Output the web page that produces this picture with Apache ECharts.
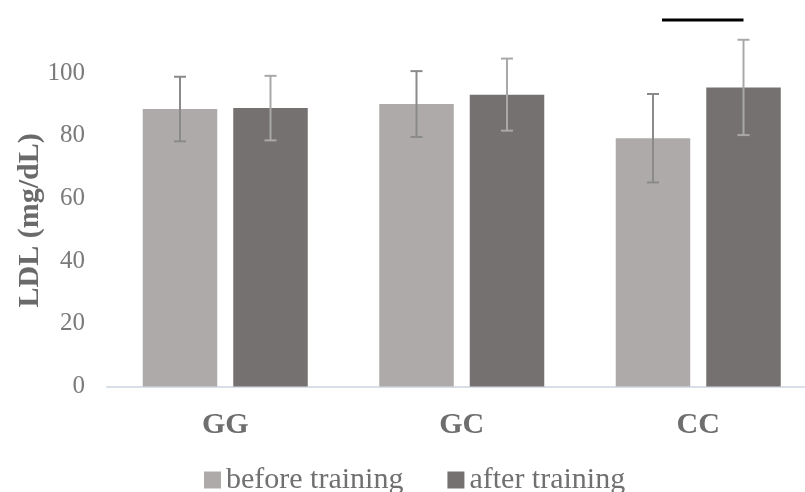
<!DOCTYPE html>
<html>
<head>
<meta charset="utf-8">
<script src="https://cdn.jsdelivr.net/npm/echarts@6/dist/echarts.min.js"></script>
<style>
  html, body { margin: 0; padding: 0; background: #fff; }
  #chart { width: 805px; height: 492px; }
</style>
</head>
<body>
<div id="chart"></div>
<script>
// LDL by genotype, before and after training (mean ± SD)
const categories = ['GG', 'GC', 'CC'];
const seriesNames = ['before training', 'after training'];
const beforeMean = [88.5, 90.1, 79.2];
const beforeSD = [10.3, 10.5, 14.1];
const afterMean = [88.8, 93.1, 95.4];
const afterSD = [10.3, 11.5, 15.2];
// significance bar over CC
const sigCategory = 2;
const sigLevel = 116.9;
const yTicks = [0, 20, 40, 60, 80, 100];

const FONT = '"Liberation Serif", "Times New Roman", serif';
const BAR_W = 74.5;
const GAP_PX = 16;
const OFFSET = (BAR_W + GAP_PX) / 2;

function errorBarSeries(means, sds, sign, color) {
  return {
    type: 'custom',
    z: 5,
    silent: true,
    clip: false,
    data: means.map((m, i) => [i, m, sds[i]]),
    encode: { x: 0, y: 1 },
    renderItem: function (params, api) {
      const idx = api.value(0);
      const m = api.value(1);
      const sd = api.value(2);
      const top = api.coord([idx, m + sd]);
      const bot = api.coord([idx, m - sd]);
      const x = top[0] + sign * OFFSET;
      const cap = 6;
      const style = { stroke: color, lineWidth: 2 };
      return {
        type: 'group',
        children: [
          { type: 'line', shape: { x1: x, y1: top[1], x2: x, y2: bot[1] }, style: style },
          { type: 'line', shape: { x1: x - cap, y1: top[1], x2: x + cap, y2: top[1] }, style: style },
          { type: 'line', shape: { x1: x - cap, y1: bot[1], x2: x + cap, y2: bot[1] }, style: style }
        ]
      };
    }
  };
}

const chart = echarts.init(document.getElementById('chart'), null, { renderer: 'canvas' });
chart.setOption({
  animation: false,
  backgroundColor: '#ffffff',
  textStyle: { fontFamily: FONT },
  grid: {
    left: 107, width: 709.5, top: 10.3, bottom: 105.5,
    containLabel: false, outerBoundsMode: 'none'
  },
  legend: {
    data: seriesNames,
    left: 199,
    top: 460,
    itemWidth: 17,
    itemHeight: 17,
    itemGap: 44,
    icon: 'rect',
    textStyle: { fontFamily: FONT, fontSize: 30, color: '#707070' }
  },
  xAxis: {
    type: 'category',
    data: categories,
    axisLine: { show: true, lineStyle: { color: '#d8dfe6', width: 2 } },
    axisTick: { show: false },
    axisLabel: { margin: 24, fontFamily: FONT, fontSize: 30, fontWeight: 'bold', color: '#6e6e6e' },
    splitLine: { show: false }
  },
  yAxis: {
    type: 'value',
    min: 0,
    max: 120,
    interval: 20,
    name: 'LDL (mg/dL)',
    nameLocation: 'middle',
    nameGap: 62,
    nameMoveOverlap: false,
    nameTextStyle: { fontFamily: FONT, fontSize: 30, fontWeight: 'bold', color: '#6a6a6a', padding: [0, 44, 0, 0] },
    axisLine: { show: false },
    axisTick: { show: false },
    splitLine: { show: false },
    axisLabel: {
      margin: 22,
      fontFamily: FONT,
      fontSize: 25,
      color: '#7a7a7a',
      formatter: function (v) { return yTicks.indexOf(v) >= 0 ? String(v) : ''; }
    }
  },
  series: [
    {
      name: seriesNames[0],
      type: 'bar',
      data: beforeMean,
      barWidth: BAR_W,
      barGap: (GAP_PX / BAR_W * 100).toFixed(2) + '%',
      itemStyle: { color: '#aeaaaa' }
    },
    {
      name: seriesNames[1],
      type: 'bar',
      data: afterMean,
      barWidth: BAR_W,
      itemStyle: { color: '#767171' }
    },
    errorBarSeries(beforeMean, beforeSD, -1, '#8a8a8a'),
    errorBarSeries(afterMean, afterSD, 1, '#a8a8a8'),
    {
      type: 'custom',
      z: 6,
      silent: true,
      clip: false,
      data: [[sigCategory, sigLevel]],
      encode: { x: 0, y: 1 },
      renderItem: function (params, api) {
        const p = api.coord([api.value(0), api.value(1)]);
        return {
          type: 'line',
          shape: { x1: p[0] - OFFSET + 9, y1: p[1], x2: p[0] + OFFSET, y2: p[1] },
          style: { stroke: '#000000', lineWidth: 3 }
        };
      }
    }
  ]
});
</script>
</body>
</html>
